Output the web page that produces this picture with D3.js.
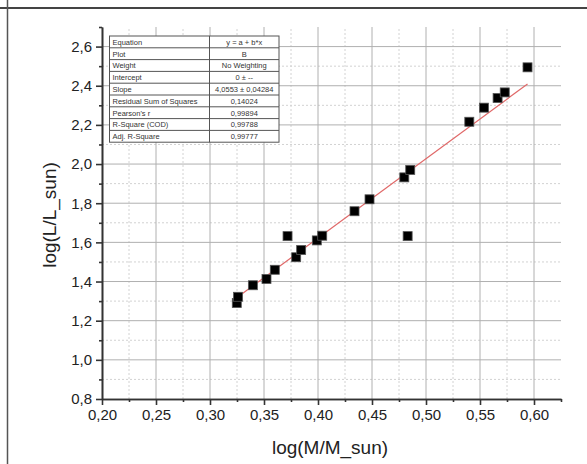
<!DOCTYPE html>
<html>
<head>
<meta charset="utf-8">
<script src="https://cdn.jsdelivr.net/npm/d3@7"></script>
<style>
body { margin: 0; background: #fff; }
text { font-family: Arial, "Liberation Sans", sans-serif; }
</style>
</head>
<body>
<div id="scatter"></div>
<script>
// data
var massLog = [0.3248, 0.3260, 0.3397, 0.3523, 0.3600, 0.3718, 0.3798, 0.3844, 0.3989, 0.4039,
               0.4338, 0.4477, 0.4799, 0.4830, 0.4854, 0.5401, 0.5537, 0.5663, 0.5729, 0.5940];
var lumLog = [1.290, 1.322, 1.381, 1.413, 1.460, 1.632, 1.524, 1.561, 1.610, 1.634,
              1.759, 1.820, 1.932, 1.632, 1.970, 2.216, 2.288, 2.337, 2.366, 2.494];
var fitSlope = 4.0553;

var xTicks = [0.20, 0.25, 0.30, 0.35, 0.40, 0.45, 0.50, 0.55, 0.60];
var xMinor = [0.225, 0.275, 0.325, 0.375, 0.425, 0.475, 0.525, 0.575, 0.625];
var yTicks = [0.8, 1.0, 1.2, 1.4, 1.6, 1.8, 2.0, 2.2, 2.4, 2.6];
var yMinor = [0.9, 1.1, 1.3, 1.5, 1.7, 1.9, 2.1, 2.3, 2.5, 2.7];

var tableLabels = ["Equation", "Plot", "Weight", "Intercept", "Slope", "Residual Sum of Squares",
                   "Pearson's r", "R-Square (COD)", "Adj. R-Square"];
var tableValues = ["y = a + b*x", "B", "No Weighting", "0 \u00b1 --", "4,0553 \u00b1 0,04284",
                   "0,14024", "0,99894", "0,99788", "0,99777"];

var svgWidth = 587;
var svgHeight = 464;
var margins = { top: 27, bottom: 65, left: 102, right: 26 };

var svg = d3.select("#scatter")
    .append("svg")
    .attr("width", svgWidth)
    .attr("height", svgHeight);

// the page frame lines around the picture
svg.append("line")
    .attr("x1", 0).attr("x2", svgWidth)
    .attr("y1", 8).attr("y2", 8)
    .attr("stroke", "#444").attr("stroke-width", 2);
svg.append("line")
    .attr("x1", 7.5).attr("x2", 7.5)
    .attr("y1", 0).attr("y2", svgHeight)
    .attr("stroke", "#555").attr("stroke-width", 1.5);

var xScale = d3.scaleLinear()
    .domain([0.2, 0.625])
    .range([margins.left, svgWidth - margins.right]);
var yScale = d3.scaleLinear()
    .domain([0.8, 2.7])
    .range([svgHeight - margins.bottom, margins.top]);

var comma = f => (v => d3.format(f)(v).replace(".", ","));

// grid, minor dashed first then major solid
var grid = svg.append("g");
grid.selectAll(".vminor")
    .data(xMinor.filter(d => d < 0.62))
    .enter().append("line")
    .attr("x1", d => xScale(d)).attr("x2", d => xScale(d))
    .attr("y1", yScale(0.8)).attr("y2", yScale(2.7))
    .attr("stroke", "#d2d2d2").attr("stroke-dasharray", "2,2");
grid.selectAll(".hminor")
    .data(yMinor.filter(d => d < 2.65))
    .enter().append("line")
    .attr("x1", xScale(0.2)).attr("x2", xScale(0.625))
    .attr("y1", d => yScale(d)).attr("y2", d => yScale(d))
    .attr("stroke", "#d2d2d2").attr("stroke-dasharray", "2,2");
grid.selectAll(".vmajor")
    .data(xTicks.slice(1))
    .enter().append("line")
    .attr("x1", d => xScale(d)).attr("x2", d => xScale(d))
    .attr("y1", yScale(0.8)).attr("y2", yScale(2.7))
    .attr("stroke", "#b0b0b0");
grid.selectAll(".hmajor")
    .data(yTicks.slice(1))
    .enter().append("line")
    .attr("x1", xScale(0.2)).attr("x2", xScale(0.625))
    .attr("y1", d => yScale(d)).attr("y2", d => yScale(d))
    .attr("stroke", "#b0b0b0");

// axes
var xAxis = svg.append("g")
    .attr("transform", `translate(0,${yScale(0.8)})`)
    .call(d3.axisBottom(xScale).tickValues(xTicks).tickFormat(comma(".2f"))
        .tickSize(6).tickSizeOuter(0).tickPadding(4));
svg.append("g")
    .attr("transform", `translate(0,${yScale(0.8)})`)
    .call(d3.axisBottom(xScale).tickValues(xMinor).tickFormat("").tickSize(3).tickSizeOuter(0));

var yAxis = svg.append("g")
    .attr("transform", `translate(${xScale(0.2)},0)`)
    .call(d3.axisLeft(yScale).tickValues(yTicks).tickFormat(comma(".1f"))
        .tickSize(6).tickSizeOuter(0).tickPadding(4));
svg.append("g")
    .attr("transform", `translate(${xScale(0.2)},0)`)
    .call(d3.axisLeft(yScale).tickValues(yMinor).tickFormat("").tickSize(3).tickSizeOuter(0));

svg.selectAll(".domain, .tick line")
    .attr("stroke", "#333")
    .attr("stroke-width", 1.6);
svg.selectAll(".tick text")
    .attr("fill", "#222")
    .style("font-size", "15px");

// axis titles
svg.append("text")
    .attr("transform", "translate(56,215) rotate(-90)")
    .style("font-size", "19px")
    .style("text-anchor", "middle")
    .attr("fill", "#222")
    .text("log(L/L_sun)");
svg.append("text")
    .attr("x", 330)
    .attr("y", 454)
    .style("font-size", "19px")
    .style("text-anchor", "middle")
    .attr("fill", "#222")
    .text("log(M/M_sun)");

// fit line through origin
var xExt = d3.extent(massLog);
svg.append("line")
    .attr("x1", xScale(xExt[0])).attr("y1", yScale(fitSlope * xExt[0]))
    .attr("x2", xScale(xExt[1])).attr("y2", yScale(fitSlope * xExt[1]))
    .attr("stroke", "#e06868")
    .attr("stroke-width", 1.2);

// square markers
var points = massLog.map((m, i) => ({ x: m, y: lumLog[i] }));
svg.selectAll(".pt")
    .data(points)
    .enter()
    .append("rect")
    .attr("x", d => xScale(d.x) - 4.5)
    .attr("y", d => yScale(d.y) - 4.5)
    .attr("width", 9)
    .attr("height", 9)
    .attr("fill", "#000")
    .attr("stroke", "#555")
    .attr("stroke-width", 0.8);

// the fit results table
var tX = 109.5, tSplit = 209.5, tRight = 279, tY = 36, rowH = 11.8;
var table = svg.append("g");
table.append("rect")
    .attr("x", tX).attr("y", tY)
    .attr("width", tRight - tX).attr("height", rowH * tableLabels.length)
    .attr("fill", "#fff").attr("stroke", "#555");
table.append("line")
    .attr("x1", tSplit).attr("x2", tSplit)
    .attr("y1", tY).attr("y2", tY + rowH * tableLabels.length)
    .attr("stroke", "#555");
table.selectAll(".rowline")
    .data(tableLabels.slice(1))
    .enter().append("line")
    .attr("x1", tX).attr("x2", tRight)
    .attr("y1", (d, i) => tY + rowH * (i + 1)).attr("y2", (d, i) => tY + rowH * (i + 1))
    .attr("stroke", "#555");
table.selectAll(".lab")
    .data(tableLabels)
    .enter().append("text")
    .attr("x", tX + 3)
    .attr("y", (d, i) => tY + rowH * i + 8.8)
    .style("font-size", "7.5px")
    .attr("fill", "#333")
    .text(d => d);
table.selectAll(".val")
    .data(tableValues)
    .enter().append("text")
    .attr("x", (tSplit + tRight) / 2)
    .attr("y", (d, i) => tY + rowH * i + 8.8)
    .style("font-size", "7.5px")
    .style("text-anchor", "middle")
    .attr("fill", "#333")
    .text(d => d);
</script>
</body>
</html>
